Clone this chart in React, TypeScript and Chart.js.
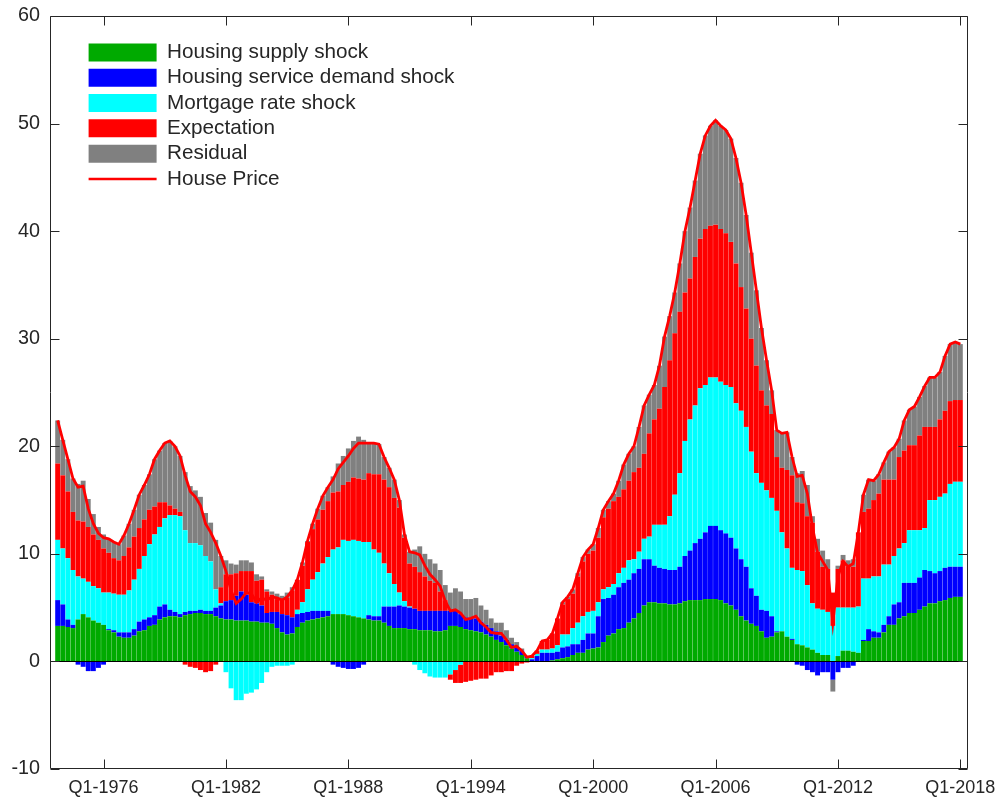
import { useEffect, useRef } from 'react';
import { Chart, registerables } from 'chart.js';

Chart.register(...registerables);

// Quarterly decomposition, Q4-1973 through Q1-2018 (178 quarters)
const firstYear = 1973;
const firstQuarter = 4;
const quarterCount = 178;

const tickLabels = ['Q1-1976', 'Q1-1982', 'Q1-1988', 'Q1-1994', 'Q1-2000', 'Q1-2006', 'Q1-2012', 'Q1-2018'];

const housingSupply = [
  3.3, 3.3, 3.2, 3.1, 3.9, 4.4, 4.1, 3.8, 3.6, 3.4,
  2.9, 2.7, 2.3, 2.2, 2.2, 2.4, 2.8, 2.9, 3.3, 3.4,
  3.9, 4.1, 4.2, 4.2, 4.1, 4.3, 4.4, 4.5, 4.5, 4.4,
  4.4, 4.2, 4.0, 3.9, 3.9, 3.8, 3.8, 3.8, 3.7, 3.7,
  3.6, 3.6, 3.5, 3.1, 2.7, 2.5, 2.6, 3.2, 3.6, 3.8,
  3.9, 4.0, 4.1, 4.2, 4.4, 4.4, 4.4, 4.3, 4.2, 4.1,
  4.0, 3.9, 3.8, 3.8, 3.6, 3.3, 3.1, 3.1, 3.1, 3.0,
  3.0, 2.9, 2.9, 2.9, 2.8, 2.8, 2.9, 3.3, 3.3, 3.2,
  3.0, 2.9, 2.8, 2.7, 2.5, 2.3, 2.0, 1.8, 1.5, 1.2,
  0.9, 0.6, 0.3, 0.0, 0.0, 0.0, 0.0, 0.1, 0.2, 0.3,
  0.4, 0.6, 0.8, 0.8, 1.1, 1.2, 1.3, 1.8, 2.4, 2.6,
  3.0, 3.1, 3.6, 4.0, 4.5, 5.2, 5.5, 5.5, 5.4, 5.4,
  5.3, 5.3, 5.4, 5.6, 5.7, 5.7, 5.7, 5.8, 5.8, 5.8,
  5.7, 5.4, 5.2, 4.8, 4.2, 3.8, 3.5, 3.3, 2.8, 2.2,
  2.3, 2.7, 2.8, 2.3, 2.0, 1.6, 1.5, 1.3, 1.1, 0.8,
  0.6, 0.6, 0.0, 0.5, 1.0, 1.0, 0.9, 0.8, 1.9, 1.9,
  2.2, 2.2, 2.7, 3.4, 3.4, 4.0, 4.2, 4.5, 4.5, 4.8,
  5.1, 5.4, 5.4, 5.6, 5.7, 5.9, 6.0, 6.0,
];

const serviceDemand = [
  2.4, 2.0, 0.7, 0.3, -0.3, -0.5, -0.9, -0.9, -0.6, -0.3,
  0.1, 0.2, 0.4, 0.5, 0.5, 0.6, 0.9, 1.0, 0.8, 0.9,
  1.2, 1.2, 0.6, 0.4, 0.3, 0.3, 0.3, 0.2, 0.3, 0.3,
  0.3, 0.8, 1.2, 1.7, 1.8, 2.3, 2.7, 2.4, 1.8, 1.7,
  1.6, 0.9, 1.1, 1.5, 1.7, 1.8, 1.5, 1.2, 0.9, 0.8,
  0.8, 0.7, 0.6, 0.5, -0.3, -0.5, -0.6, -0.7, -0.7, -0.6,
  -0.3, 0.4, 0.4, 0.4, 1.5, 1.8, 2.0, 2.1, 2.0, 2.0,
  1.9, 1.8, 1.8, 1.8, 1.9, 1.9, 1.8, 1.4, 1.4, 1.2,
  1.1, 1.1, 1.2, 1.0, 0.9, 0.8, 0.8, 0.6, 0.5, 0.4,
  0.4, 0.4, 0.2, 0.2, 0.5, 0.8, 0.8, 0.7, 0.7, 1.0,
  1.0, 1.0, 0.8, 1.2, 1.5, 1.4, 2.9, 4.0, 3.5, 3.6,
  3.9, 4.2, 4.0, 4.2, 4.1, 4.3, 4.0, 3.4, 3.3, 3.2,
  3.2, 3.2, 3.4, 4.2, 4.6, 5.3, 5.7, 6.2, 6.8, 6.8,
  6.5, 6.5, 6.3, 5.7, 5.3, 5.0, 3.3, 2.8, 2.0, 2.5,
  1.9, 0.1, 0.0, 0.0, 0.1, -0.3, -0.4, -0.8, -1.0, -1.3,
  -1.0, -1.0, -1.7, -1.0, -0.6, -0.6, -0.4, 0.0, 0.1, 1.1,
  0.6, 0.5, 0.7, 0.8, 1.9, 1.5, 3.1, 2.8, 2.8, 3.0,
  3.4, 3.0, 2.8, 2.8, 3.0, 2.9, 2.8, 2.8,
];

const mortgageRate = [
  5.6, 5.2, 5.7, 5.1, 4.0, 3.3, 3.3, 3.2, 3.2, 3.0,
  3.4, 3.4, 3.5, 3.5, 3.9, 4.6, 4.9, 5.9, 6.8, 7.5,
  7.4, 8.0, 8.8, 9.0, 9.1, 7.6, 6.3, 6.3, 6.0, 5.1,
  4.6, 1.7, 0.2, -1.0, -2.5, -3.6, -3.6, -3.0, -2.9, -2.6,
  -2.0, -1.0, -0.5, -0.4, -0.4, -0.4, -0.3, 0.4, 1.0, 2.1,
  2.9, 3.6, 4.4, 5.0, 6.0, 6.2, 6.9, 6.9, 7.1, 7.1,
  7.1, 6.8, 6.2, 5.9, 4.0, 3.1, 2.1, 1.2, 0.5, 0.1,
  -0.3, -0.8, -1.1, -1.4, -1.5, -1.5, -1.5, -1.2, -0.8, -0.3,
  0.0, 0.0, 0.0, 0.0, 0.0, 0.0, 0.0, 0.0, 0.0, 0.0,
  0.0, 0.0, 0.0, 0.1, 0.2, 0.3, 0.3, 0.4, 0.6, 1.2,
  1.1, 1.5, 2.0, 2.2, 2.0, 2.1, 1.3, 0.9, 1.0, 1.0,
  1.3, 1.4, 1.8, 1.3, 1.6, 1.9, 2.1, 3.8, 4.0, 4.1,
  5.0, 7.0, 8.7, 10.7, 12.2, 12.8, 14.0, 13.7, 13.8, 13.8,
  13.8, 13.8, 14.0, 13.5, 13.8, 13.0, 12.7, 11.4, 11.8, 11.2,
  11.0, 11.2, 9.2, 8.2, 6.6, 6.9, 6.9, 5.8, 4.3, 4.1,
  4.2, 4.0, 3.3, 4.5, 4.0, 4.0, 4.1, 4.3, 5.7, 4.7,
  5.1, 5.2, 5.6, 4.8, 4.5, 5.0, 3.7, 4.9, 4.9, 4.4,
  3.9, 6.6, 6.8, 6.9, 6.9, 7.7, 7.9, 7.9,
];

const expectation = [
  7.1, 6.8, 6.2, 5.4, 5.2, 5.3, 5.1, 4.8, 4.5, 4.1,
  3.7, 3.3, 3.2, 3.6, 4.0, 4.0, 3.8, 3.4, 3.2, 2.6,
  2.3, 1.5, 0.9, 0.6, 0.4, -0.3, -0.5, -0.6, -0.8, -1.0,
  -0.9, -0.3, 1.5, 2.5, 2.4, 2.1, 1.9, 2.2, 2.9, 2.1,
  2.4, 2.0, 1.6, 1.2, 1.3, 1.6, 2.5, 2.8, 3.4, 4.4,
  4.7, 4.9, 5.0, 5.2, 5.3, 5.2, 5.1, 5.5, 5.8, 5.8,
  5.8, 6.4, 7.0, 7.3, 7.8, 8.0, 8.0, 7.9, 5.9, 4.0,
  3.9, 3.6, 3.2, 2.8, 2.6, 1.8, 1.0, -0.5, -1.2, -1.7,
  -1.9, -1.8, -1.7, -1.6, -1.6, -1.3, -1.0, -1.0, -0.9, -0.9,
  -0.4, -0.2, -0.1, 0.2, 0.3, 0.8, 0.9, 1.4, 2.5, 2.8,
  3.3, 3.2, 4.3, 5.1, 5.4, 5.6, 6.0, 6.7, 7.3, 7.7,
  7.1, 7.3, 7.4, 8.1, 7.8, 7.9, 9.6, 9.8, 10.8, 12.8,
  14.5, 15.0, 15.0, 13.8, 13.1, 13.8, 13.9, 14.5, 14.1, 14.2,
  14.2, 14.1, 13.5, 13.0, 11.5, 11.0, 10.5, 10.0, 8.6, 7.9,
  7.8, 5.0, 6.0, 7.3, 8.6, 6.3, 6.3, 6.4, 7.5, 5.3,
  4.0, 4.0, 3.1, 3.6, 4.4, 3.8, 3.8, 6.9, 6.2, 6.5,
  7.1, 7.7, 7.9, 7.9, 7.1, 8.5, 8.6, 7.9, 7.9, 8.8,
  9.4, 6.8, 6.8, 7.2, 7.7, 7.7, 7.6, 7.6,
];

const residual = [
  4.0, 3.3, 3.0, 3.1, 3.4, 3.8, 2.6, 1.9, 1.2, 1.3,
  1.3, 1.5, 1.5, 1.9, 2.2, 2.5, 3.1, 3.2, 3.3, 4.4,
  4.8, 5.5, 6.0, 5.8, 5.2, 5.4, 5.3, 4.9, 4.5, 4.0,
  3.6, 4.6, 2.9, 1.3, 1.0, 0.8, 1.0, 1.0, 0.8, 0.6,
  0.3, 0.2, 0.3, 0.5, 0.4, 0.5, 0.3, 0.0, 0.3, 0.1,
  0.5, 1.0, 1.3, 1.3, 1.5, 2.6, 2.7, 3.1, 3.4, 3.9,
  3.7, 2.8, 2.9, 2.8, 2.1, 1.8, 1.7, 0.7, 0.3, 1.1,
  1.6, 2.4, 2.1, 2.0, 1.8, 2.0, 1.4, 1.7, 2.1, 2.1,
  1.7, 1.8, 1.9, 1.5, 1.4, 0.9, 0.8, 1.2, 0.9, 0.6,
  0.5, 0.2, 0.0, 0.0, 0.0, 0.0, 0.0, 0.0, 0.0, 0.2,
  0.2, 0.4, 0.3, 0.4, 0.4, 0.6, 0.9, 0.7, 0.7, 0.7,
  1.5, 2.3, 2.5, 2.4, 3.8, 4.5, 3.6, 3.2, 4.0, 4.7,
  4.1, 3.8, 4.5, 5.7, 6.6, 7.1, 7.9, 8.7, 9.3, 9.7,
  9.6, 9.6, 9.6, 9.8, 9.7, 8.7, 8.0, 7.0, 5.8, 4.2,
  2.2, 2.5, 3.2, 3.5, 1.7, 2.7, 3.0, 2.9, 0.6, 1.2,
  1.5, 0.9, -1.1, 0.3, 0.5, 0.6, 0.7, 0.0, 1.6, 2.7,
  1.8, 1.8, 1.6, 2.6, 3.0, 1.7, 2.8, 3.3, 3.6, 3.6,
  3.8, 4.6, 4.6, 4.4, 5.1, 5.3, 5.4, 5.2,
];

const housePrice = [
  22.4, 20.6, 18.8, 17.0, 16.2, 16.3, 14.2, 12.8, 11.9, 11.5,
  11.4, 11.1, 10.9, 11.7, 12.8, 14.1, 15.5, 16.4, 17.4, 18.8,
  19.6, 20.3, 20.5, 20.0, 19.1, 17.3, 15.8, 15.3, 14.5, 12.8,
  12.0, 11.0, 9.8, 8.4, 6.6, 5.4, 5.8, 6.4, 6.3, 5.5,
  5.9, 5.7, 6.0, 5.9, 5.7, 6.0, 6.6, 7.6, 9.2, 11.2,
  12.8, 14.2, 15.4, 16.2, 16.9, 17.9, 18.5, 19.1, 19.8, 20.3,
  20.3, 20.3, 20.3, 20.2, 19.0, 18.0, 16.9, 15.0, 11.8, 10.2,
  10.1, 9.9, 8.9, 8.1, 7.6, 7.0, 5.6, 4.7, 4.8, 4.5,
  3.9, 4.0, 4.2, 3.6, 3.2, 2.7, 2.6, 2.6, 2.0, 1.3,
  1.4, 1.0, 0.4, 0.5, 1.0, 1.9, 2.0, 2.6, 4.0, 5.5,
  6.0, 6.7, 8.2, 9.7, 10.4, 10.9, 12.4, 14.1, 14.9, 15.6,
  16.8, 18.3, 19.3, 20.0, 21.8, 23.8, 24.8, 25.7, 27.5, 30.2,
  32.1, 34.3, 37.0, 40.0, 42.2, 44.7, 47.2, 48.9, 49.8, 50.3,
  49.8, 49.4, 48.6, 46.8, 44.5, 41.5, 38.0, 34.5, 31.0, 28.0,
  25.2, 21.5, 21.2, 21.3, 19.0, 17.2, 17.3, 15.6, 12.5, 10.1,
  9.3, 8.5, 3.6, 7.9, 9.3, 8.8, 9.1, 12.0, 15.5, 16.9,
  16.8, 17.4, 18.5, 19.5, 19.9, 20.7, 22.4, 23.4, 23.7, 24.6,
  25.6, 26.4, 26.4, 26.9, 28.4, 29.5, 29.7, 29.5,
];

const componentNames = [
  'Housing supply shock',
  'Housing service demand shock',
  'Mortgage rate shock',
  'Expectation',
  'Residual',
];
const componentColors = ['#00aa00', '#0000ff', '#00ffff', '#ff0000', '#808080'];
const componentValues = [housingSupply, serviceDemand, mortgageRate, expectation, residual];
const priceName = 'House Price';
const priceColor = '#ff0000';

const axisColor = '#262626';
const fontFamily = "'Liberation Sans', Arial, Helvetica, sans-serif";

// Quarter names; one empty slot on each side keeps a margin inside the axes box
const quarters: string[] = [];
for (let k = 0; k < quarterCount; k++) {
  const step = firstQuarter - 1 + k;
  quarters.push(`Q${(step % 4) + 1}-${firstYear + Math.floor(step / 4)}`);
}
const categoryLabels = ['', ...quarters, ''];
const padded = (values: number[]) => [null, ...values, null];

// Box around the plot, inward ticks on all four sides, bar baseline at zero,
// and the legend placed in the upper-left corner of the plot.
const axesBox = {
  id: 'axesBox',
  beforeDraw(chart: any) {
    const legend = chart.legend;
    const area = chart.chartArea;
    if (legend && area) {
      legend.left = area.left + 34;
      legend.top = area.top + 21.5;
    }
  },
  beforeDatasetDraw(chart: any, args: any) {
    if (args.meta.type !== 'line') return;
    const { ctx, chartArea: area, scales } = chart;
    const y0 = Math.round(scales.y.getPixelForValue(0)) + 0.5;
    ctx.save();
    ctx.strokeStyle = '#000000';
    ctx.lineWidth = 1;
    ctx.beginPath();
    ctx.moveTo(area.left, y0);
    ctx.lineTo(area.right, y0);
    ctx.stroke();
    ctx.restore();
  },
  afterDraw(chart: any) {
    const { ctx, chartArea: area, scales } = chart;
    const len = 9;
    const L = Math.round(area.left) + 0.5;
    const R = Math.round(area.right) - 0.5;
    const T = Math.round(area.top) + 0.5;
    const B = Math.round(area.bottom) - 0.5;
    ctx.save();
    ctx.strokeStyle = axisColor;
    ctx.lineWidth = 1;
    ctx.beginPath();
    ctx.rect(L, T, R - L, B - T);
    scales.y.ticks.forEach((t: any) => {
      const py = Math.round(scales.y.getPixelForValue(t.value)) + 0.5;
      ctx.moveTo(L, py);
      ctx.lineTo(L + len, py);
      ctx.moveTo(R, py);
      ctx.lineTo(R - len, py);
    });
    scales.x.ticks.forEach((_t: any, i: number) => {
      const px = Math.round(scales.x.getPixelForTick(i)) + 0.5;
      ctx.moveTo(px, B);
      ctx.lineTo(px, B - len);
      ctx.moveTo(px, T);
      ctx.lineTo(px, T + len);
    });
    ctx.stroke();
    ctx.restore();
  },
};

export default function App() {
  const canvasRef = useRef<HTMLCanvasElement>(null);

  useEffect(() => {
    const canvas = canvasRef.current;
    if (!canvas) return;
    Chart.defaults.font.family = fontFamily;
    Chart.defaults.color = axisColor;

    const barSets = componentValues.map((values, i) => ({
      type: 'bar' as const,
      label: componentNames[i],
      data: padded(values),
      backgroundColor: componentColors[i],
      borderWidth: 0,
      barPercentage: 0.96,
      categoryPercentage: 1,
      inflateAmount: 0,
      stack: 'parts',
      order: 1,
    }));

    const priceSet = {
      type: 'line' as const,
      label: priceName,
      data: padded(housePrice),
      borderColor: priceColor,
      backgroundColor: priceColor,
      borderWidth: 2.8,
      pointRadius: 0,
      pointHoverRadius: 0,
      tension: 0,
      fill: false,
      stack: 'price',
      order: 0,
    };

    const chart = new Chart(canvas, {
      type: 'bar',
      data: { labels: categoryLabels, datasets: [...barSets, priceSet] as any },
      options: {
        animation: false,
        responsive: false,
        events: [],
        layout: { padding: { top: 16, right: 38, left: 0, bottom: 0 } },
        scales: {
          x: {
            type: 'category',
            stacked: true,
            offset: true,
            grid: { display: false, drawTicks: false },
            border: { display: false },
            ticks: {
              autoSkip: false,
              maxRotation: 0,
              minRotation: 0,
              padding: 8,
              color: axisColor,
              font: { size: 18, family: fontFamily },
            },
            afterBuildTicks: (scale: any) => {
              const labels = scale.chart.data.labels;
              scale.ticks = scale.ticks.filter((t: any) => tickLabels.includes(labels[t.value]));
            },
            afterFit: (scale: any) => {
              scale.height = 36;
            },
          },
          y: {
            stacked: true,
            min: -10,
            max: 60,
            grid: { display: false, drawTicks: false },
            border: { display: false },
            ticks: {
              stepSize: 10,
              padding: 10,
              color: axisColor,
              font: { size: 19.8, family: fontFamily },
            },
            afterFit: (scale: any) => {
              scale.width = 50;
              scale.paddingTop = 0;
              scale.paddingBottom = 0;
            },
          },
        },
        plugins: {
          tooltip: { enabled: false },
          legend: {
            position: 'chartArea' as any,
            align: 'start',
            labels: {
              usePointStyle: true,
              pointStyleWidth: 68,
              boxHeight: 18,
              padding: 4.6,
              color: axisColor,
              font: { size: 20.7, family: fontFamily },
              generateLabels: (c: any) =>
                c.data.datasets.map((ds: any, i: number) => {
                  const isLine = ds.type === 'line';
                  return {
                    text: ds.label,
                    datasetIndex: i,
                    hidden: false,
                    fontColor: axisColor,
                    fillStyle: isLine ? 'rgba(0,0,0,0)' : ds.backgroundColor,
                    strokeStyle: isLine ? ds.borderColor : 'rgba(0,0,0,0)',
                    lineWidth: isLine ? 2.5 : 0,
                    pointStyle: isLine ? 'line' : 'rect',
                  };
                }),
            },
          },
        },
      },
      plugins: [axesBox],
    });

    return () => chart.destroy();
  }, []);

  return (
    <div style={{ position: 'absolute', left: 0, top: 0, width: 1006, height: 805, background: '#ffffff' }}>
      <canvas ref={canvasRef} width={1006} height={805} style={{ display: 'block', width: 1006, height: 805 }} />
    </div>
  );
}
